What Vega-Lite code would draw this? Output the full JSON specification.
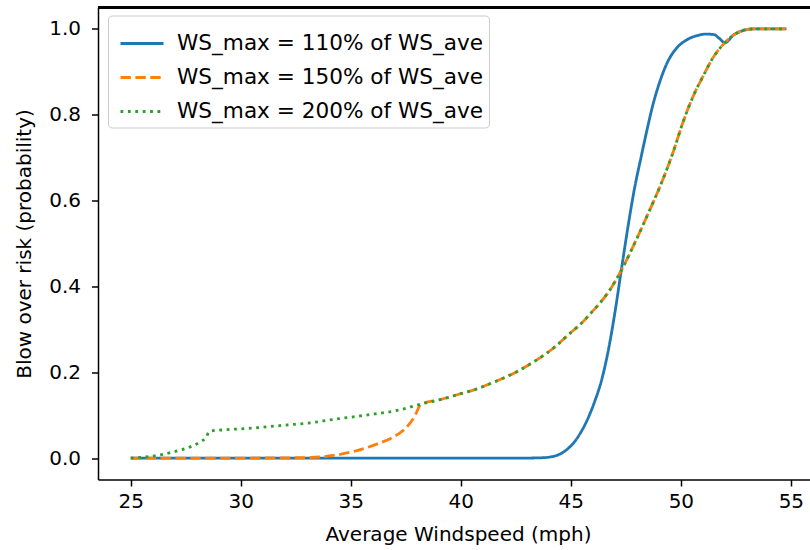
{
  "$schema": "https://vega.github.io/schema/vega-lite/v6.json",
  "width": 712,
  "height": 472,
  "autosize": "none",
  "padding": {"left": 98, "top": 7.5, "right": 0, "bottom": 70.5},
  "background": "white",
  "config": {
    "view": {"stroke": null},
    "font": "DejaVu Sans",
    "axis": {
      "domainColor": "#000", "domainWidth": 1.5, "tickColor": "#000", "tickWidth": 1.5, "tickSize": 6.5,
      "labelColor": "#000", "labelFontSize": 20, "labelFont": "DejaVu Sans",
      "titleColor": "#000", "titleFontSize": 20, "titleFontWeight": "normal", "titleFont": "DejaVu Sans",
      "grid": false
    }
  },
  "data": {
    "values": [
      {"s": "WS_max = 110% of WS_ave", "ws": 25, "p": 0},
      {"s": "WS_max = 110% of WS_ave", "ws": 30, "p": 0},
      {"s": "WS_max = 110% of WS_ave", "ws": 35, "p": 0},
      {"s": "WS_max = 110% of WS_ave", "ws": 40, "p": 0},
      {"s": "WS_max = 110% of WS_ave", "ws": 43, "p": 0},
      {"s": "WS_max = 110% of WS_ave", "ws": 43.6, "p": 0.0005},
      {"s": "WS_max = 110% of WS_ave", "ws": 44.0, "p": 0.002},
      {"s": "WS_max = 110% of WS_ave", "ws": 44.4, "p": 0.007},
      {"s": "WS_max = 110% of WS_ave", "ws": 44.8, "p": 0.019},
      {"s": "WS_max = 110% of WS_ave", "ws": 45.2, "p": 0.04},
      {"s": "WS_max = 110% of WS_ave", "ws": 45.5, "p": 0.064},
      {"s": "WS_max = 110% of WS_ave", "ws": 45.8, "p": 0.095},
      {"s": "WS_max = 110% of WS_ave", "ws": 46.1, "p": 0.134},
      {"s": "WS_max = 110% of WS_ave", "ws": 46.4, "p": 0.182},
      {"s": "WS_max = 110% of WS_ave", "ws": 46.7, "p": 0.25},
      {"s": "WS_max = 110% of WS_ave", "ws": 47.0, "p": 0.338},
      {"s": "WS_max = 110% of WS_ave", "ws": 47.3, "p": 0.44},
      {"s": "WS_max = 110% of WS_ave", "ws": 47.6, "p": 0.54},
      {"s": "WS_max = 110% of WS_ave", "ws": 47.9, "p": 0.63},
      {"s": "WS_max = 110% of WS_ave", "ws": 48.2, "p": 0.703},
      {"s": "WS_max = 110% of WS_ave", "ws": 48.45, "p": 0.762},
      {"s": "WS_max = 110% of WS_ave", "ws": 48.75, "p": 0.827},
      {"s": "WS_max = 110% of WS_ave", "ws": 49.05, "p": 0.878},
      {"s": "WS_max = 110% of WS_ave", "ws": 49.35, "p": 0.918},
      {"s": "WS_max = 110% of WS_ave", "ws": 49.8, "p": 0.955},
      {"s": "WS_max = 110% of WS_ave", "ws": 50.25, "p": 0.974},
      {"s": "WS_max = 110% of WS_ave", "ws": 50.7, "p": 0.984},
      {"s": "WS_max = 110% of WS_ave", "ws": 51.15, "p": 0.988},
      {"s": "WS_max = 110% of WS_ave", "ws": 51.5, "p": 0.987},
      {"s": "WS_max = 110% of WS_ave", "ws": 51.75, "p": 0.978},
      {"s": "WS_max = 110% of WS_ave", "ws": 52.0, "p": 0.968},
      {"s": "WS_max = 110% of WS_ave", "ws": 52.4, "p": 0.986},
      {"s": "WS_max = 110% of WS_ave", "ws": 52.8, "p": 0.996},
      {"s": "WS_max = 110% of WS_ave", "ws": 53.3, "p": 1.0},
      {"s": "WS_max = 110% of WS_ave", "ws": 54.8, "p": 1.0},

      {"s": "WS_max = 150% of WS_ave", "ws": 25, "p": 0},
      {"s": "WS_max = 150% of WS_ave", "ws": 30, "p": 0},
      {"s": "WS_max = 150% of WS_ave", "ws": 33, "p": 0.001},
      {"s": "WS_max = 150% of WS_ave", "ws": 34.2, "p": 0.006},
      {"s": "WS_max = 150% of WS_ave", "ws": 35.25, "p": 0.017},
      {"s": "WS_max = 150% of WS_ave", "ws": 36.15, "p": 0.032},
      {"s": "WS_max = 150% of WS_ave", "ws": 36.9, "p": 0.048},
      {"s": "WS_max = 150% of WS_ave", "ws": 37.5, "p": 0.07},
      {"s": "WS_max = 150% of WS_ave", "ws": 37.9, "p": 0.097},
      {"s": "WS_max = 150% of WS_ave", "ws": 38.2, "p": 0.126},
      {"s": "WS_max = 150% of WS_ave", "ws": 39.05, "p": 0.136},
      {"s": "WS_max = 150% of WS_ave", "ws": 40.0, "p": 0.15},
      {"s": "WS_max = 150% of WS_ave", "ws": 40.6, "p": 0.159},
      {"s": "WS_max = 150% of WS_ave", "ws": 41.6, "p": 0.179},
      {"s": "WS_max = 150% of WS_ave", "ws": 42.5, "p": 0.2},
      {"s": "WS_max = 150% of WS_ave", "ws": 43.4, "p": 0.227},
      {"s": "WS_max = 150% of WS_ave", "ws": 44.3, "p": 0.26},
      {"s": "WS_max = 150% of WS_ave", "ws": 44.9, "p": 0.288},
      {"s": "WS_max = 150% of WS_ave", "ws": 45.5, "p": 0.315},
      {"s": "WS_max = 150% of WS_ave", "ws": 45.95, "p": 0.34},
      {"s": "WS_max = 150% of WS_ave", "ws": 46.4, "p": 0.366},
      {"s": "WS_max = 150% of WS_ave", "ws": 46.75, "p": 0.39},
      {"s": "WS_max = 150% of WS_ave", "ws": 47.35, "p": 0.443},
      {"s": "WS_max = 150% of WS_ave", "ws": 47.95, "p": 0.506},
      {"s": "WS_max = 150% of WS_ave", "ws": 48.55, "p": 0.574},
      {"s": "WS_max = 150% of WS_ave", "ws": 49.15, "p": 0.645},
      {"s": "WS_max = 150% of WS_ave", "ws": 49.65, "p": 0.713},
      {"s": "WS_max = 150% of WS_ave", "ws": 50.1, "p": 0.783},
      {"s": "WS_max = 150% of WS_ave", "ws": 50.55, "p": 0.842},
      {"s": "WS_max = 150% of WS_ave", "ws": 51.0, "p": 0.889},
      {"s": "WS_max = 150% of WS_ave", "ws": 51.45, "p": 0.932},
      {"s": "WS_max = 150% of WS_ave", "ws": 52.0, "p": 0.968},
      {"s": "WS_max = 150% of WS_ave", "ws": 52.4, "p": 0.986},
      {"s": "WS_max = 150% of WS_ave", "ws": 52.8, "p": 0.996},
      {"s": "WS_max = 150% of WS_ave", "ws": 53.3, "p": 1.0},
      {"s": "WS_max = 150% of WS_ave", "ws": 54.8, "p": 1.0},

      {"s": "WS_max = 200% of WS_ave", "ws": 25, "p": 0},
      {"s": "WS_max = 200% of WS_ave", "ws": 26.2, "p": 0.006},
      {"s": "WS_max = 200% of WS_ave", "ws": 26.9, "p": 0.014},
      {"s": "WS_max = 200% of WS_ave", "ws": 27.7, "p": 0.026},
      {"s": "WS_max = 200% of WS_ave", "ws": 28.1, "p": 0.036},
      {"s": "WS_max = 200% of WS_ave", "ws": 28.4, "p": 0.047},
      {"s": "WS_max = 200% of WS_ave", "ws": 28.6, "p": 0.063},
      {"s": "WS_max = 200% of WS_ave", "ws": 29.35, "p": 0.066},
      {"s": "WS_max = 200% of WS_ave", "ws": 30.56, "p": 0.07},
      {"s": "WS_max = 200% of WS_ave", "ws": 32.08, "p": 0.077},
      {"s": "WS_max = 200% of WS_ave", "ws": 33.3, "p": 0.083},
      {"s": "WS_max = 200% of WS_ave", "ws": 34.2, "p": 0.09},
      {"s": "WS_max = 200% of WS_ave", "ws": 35.7, "p": 0.1},
      {"s": "WS_max = 200% of WS_ave", "ws": 37.2, "p": 0.112},
      {"s": "WS_max = 200% of WS_ave", "ws": 38.2, "p": 0.126},
      {"s": "WS_max = 200% of WS_ave", "ws": 39.05, "p": 0.136},
      {"s": "WS_max = 200% of WS_ave", "ws": 40.0, "p": 0.15},
      {"s": "WS_max = 200% of WS_ave", "ws": 40.6, "p": 0.159},
      {"s": "WS_max = 200% of WS_ave", "ws": 41.6, "p": 0.179},
      {"s": "WS_max = 200% of WS_ave", "ws": 42.5, "p": 0.2},
      {"s": "WS_max = 200% of WS_ave", "ws": 43.4, "p": 0.227},
      {"s": "WS_max = 200% of WS_ave", "ws": 44.3, "p": 0.26},
      {"s": "WS_max = 200% of WS_ave", "ws": 44.9, "p": 0.288},
      {"s": "WS_max = 200% of WS_ave", "ws": 45.5, "p": 0.315},
      {"s": "WS_max = 200% of WS_ave", "ws": 45.95, "p": 0.34},
      {"s": "WS_max = 200% of WS_ave", "ws": 46.4, "p": 0.366},
      {"s": "WS_max = 200% of WS_ave", "ws": 46.75, "p": 0.39},
      {"s": "WS_max = 200% of WS_ave", "ws": 47.35, "p": 0.443},
      {"s": "WS_max = 200% of WS_ave", "ws": 47.95, "p": 0.506},
      {"s": "WS_max = 200% of WS_ave", "ws": 48.55, "p": 0.574},
      {"s": "WS_max = 200% of WS_ave", "ws": 49.15, "p": 0.645},
      {"s": "WS_max = 200% of WS_ave", "ws": 49.65, "p": 0.713},
      {"s": "WS_max = 200% of WS_ave", "ws": 50.1, "p": 0.783},
      {"s": "WS_max = 200% of WS_ave", "ws": 50.55, "p": 0.842},
      {"s": "WS_max = 200% of WS_ave", "ws": 51.0, "p": 0.889},
      {"s": "WS_max = 200% of WS_ave", "ws": 51.45, "p": 0.932},
      {"s": "WS_max = 200% of WS_ave", "ws": 52.0, "p": 0.968},
      {"s": "WS_max = 200% of WS_ave", "ws": 52.4, "p": 0.986},
      {"s": "WS_max = 200% of WS_ave", "ws": 52.8, "p": 0.996},
      {"s": "WS_max = 200% of WS_ave", "ws": 53.3, "p": 1.0},
      {"s": "WS_max = 200% of WS_ave", "ws": 54.8, "p": 1.0}
    ]
  },
  "layer": [
    {
      "mark": {"type": "line", "strokeWidth": 2.8, "strokeCap": "butt", "interpolate": "monotone"},
      "encoding": {
        "x": {
          "field": "ws", "type": "quantitative",
          "scale": {"domain": [23.51, 55.87], "nice": false, "zero": false},
          "axis": {"values": [25, 30, 35, 40, 45, 50, 55], "title": "Average Windspeed (mph)", "labelPadding": 5, "titleX": 360, "titleY": 55, "titleBaseline": "middle"}
        },
        "y": {
          "field": "p", "type": "quantitative",
          "scale": {"domain": [-0.05, 1.05], "nice": false, "zero": false},
          "axis": {"values": [0, 0.2, 0.4, 0.6, 0.8, 1.0], "format": ".1f", "title": "Blow over risk (probability)", "labelPadding": 11, "titleX": -74, "titleY": 236, "titleAngle": -90, "titleBaseline": "middle", "titleAlign": "center"}
        },
        "color": {
          "field": "s", "type": "nominal",
          "scale": {"domain": ["WS_max = 110% of WS_ave", "WS_max = 150% of WS_ave", "WS_max = 200% of WS_ave"], "range": ["#1f77b4", "#ff7f0e", "#2ca02c"]},
          "legend": {"title": null, "orient": "none", "legendX": 10, "legendY": 8, "symbolType": "stroke", "symbolSize": 1850, "symbolStrokeWidth": 2.8, "symbolOffset": 6, "labelFontSize": 21.6, "labelColor": "#000", "labelLimit": 500, "labelOffset": 12, "padding": 5, "strokeColor": "#cccccc", "fillColor": "rgba(255,255,255,0.8)", "cornerRadius": 4, "rowPadding": 0}
        },
        "strokeDash": {
          "field": "s", "type": "nominal",
          "scale": {"domain": ["WS_max = 110% of WS_ave", "WS_max = 150% of WS_ave", "WS_max = 200% of WS_ave"], "range": [[1, 0], [10.4, 4.5], [2.8, 4.6]]},
          "legend": {"title": null, "orient": "none", "legendX": 10, "legendY": 8, "symbolType": "stroke", "symbolSize": 1850, "symbolStrokeWidth": 2.8, "symbolOffset": 6, "labelFontSize": 21.6, "labelColor": "#000", "labelLimit": 500, "labelOffset": 12, "padding": 5, "strokeColor": "#cccccc", "fillColor": "rgba(255,255,255,0.8)", "cornerRadius": 4, "rowPadding": 0}
        }
      }
    },
    {
      "mark": {"type": "rule", "color": "#000", "strokeWidth": 1.5},
      "encoding": {"y": {"datum": 1.05}}
    }
  ]
}
